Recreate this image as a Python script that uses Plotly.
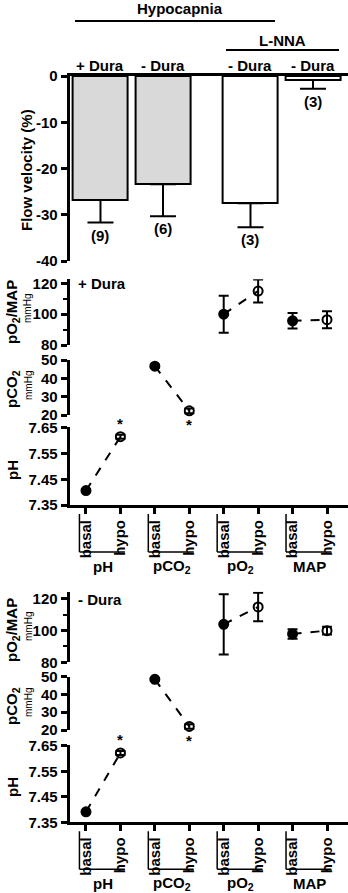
import plotly.graph_objects as go

# ---------------- data ----------------
bar_groups = ["+ Dura", "- Dura", "- Dura", "- Dura"]
flow_mean = [-26.8, -23.4, -27.5, -0.86]
flow_sem = [4.9, 6.9, 5.2, 1.9]
flow_n = ["(9)", "(6)", "(3)", "(3)"]
flow_ticks = [0, -10, -20, -30, -40]

params = ["pH", "pCO<sub>2</sub>", "pO<sub>2</sub>", "MAP"]
conditions = ["basal", "hypo"]

# + Dura block (basal, hypo)
plus_pH = [7.406, 7.616]
plus_pH_err = [0.005, 0.008]
plus_pCO2 = [46.6, 22.3]
plus_pCO2_err = [0.8, 1.3]
plus_pO2 = [100.0, 115.0]
plus_pO2_err = [12.0, 7.5]
plus_MAP = [95.7, 96.4]
plus_MAP_err = [5.0, 5.5]

# - Dura block (basal, hypo)
minus_pH = [7.391, 7.622]
minus_pH_err = [0.005, 0.008]
minus_pCO2 = [48.5, 22.0]
minus_pCO2_err = [0.8, 1.3]
minus_pO2 = [104.0, 115.0]
minus_pO2_err = [19.0, 9.0]
minus_MAP = [97.9, 100.0]
minus_MAP_err = [3.0, 2.4]

# ---------------- layout helpers ----------------
W, H = 348, 893
FONT = "Liberation Sans, Arial, sans-serif"
def px(p):
    return p / W
def py(p):
    return 1 - p / H

XDOM = [px(69.6), 1.0]
bar_pos = [0, 1, 2.4, 3.4]
bar_fill = ["#d9d9d9", "#d9d9d9", "white", "white"]

fig = go.Figure()


def note(**kw):
    kw.setdefault("showarrow", False)
    kw.setdefault("xanchor", "center")
    kw.setdefault("yanchor", "middle")
    fig.add_annotation(**kw)


# ---------------- bar chart ----------------
fig.add_trace(go.Bar(
    x=bar_pos, y=flow_mean, width=0.88,
    marker=dict(color=bar_fill, line=dict(color="black", width=2)),
    error_y=dict(type="data", symmetric=False, array=[0] * 4, arrayminus=flow_sem,
                 color="black", thickness=2, width=13),
    xaxis="x", yaxis="y", showlegend=False))

hdr_font = dict(family=FONT, size=15, color="black", weight="bold")

for xp, m, s, n in zip(bar_pos, flow_mean, flow_sem, flow_n):
    note(x=xp, y=m - s, xref="x", yref="y", text=n, yanchor="top", yshift=-2,
         font=hdr_font)

tickfont = dict(family=FONT, size=15, color="black", weight="bold")

axis_common = dict(showline=True, linecolor="black", linewidth=3, ticks="outside",
                   ticklen=6, tickwidth=3, tickcolor="black", showgrid=False,
                   zeroline=False, tickfont=tickfont, automargin=False)

fig.update_layout(
    xaxis=dict(domain=XDOM, range=[-0.494, 3.96], side="top", showline=True,
               linecolor="black", linewidth=3, showticklabels=False, ticks="",
               showgrid=False, zeroline=False, anchor="y", automargin=False),
    yaxis=dict(domain=[py(261), py(76)], range=[-40, 0], tickvals=flow_ticks,
               ticktext=[str(t) for t in flow_ticks], anchor="x", **axis_common),
)

# header texts
for xp, lab in zip(bar_pos, bar_groups):
    note(x=xp, y=py(65), xref="x", yref="paper", text=lab, font=hdr_font)
note(x=px(180), y=py(9), xref="paper", yref="paper", text="Hypocapnia", font=hdr_font)
note(x=px(282), y=py(41), xref="paper", yref="paper", text="L-NNA", font=hdr_font)
fig.add_shape(type="line", xref="paper", yref="paper", x0=px(75), x1=px(275),
              y0=py(21), y1=py(21), line=dict(color="black", width=2))
fig.add_shape(type="line", xref="paper", yref="paper", x0=px(226), x1=px(339),
              y0=py(50), y1=py(50), line=dict(color="black", width=2))
note(x=px(26), y=py(170), xref="paper", yref="paper", text="Flow velocity (%)",
     textangle=-90, font=hdr_font)

# ---------------- parameter blocks ----------------
XR = [-0.476, 7.61]
cat_ticktext = conditions * 4


def add_block(ax0, pix, data, label):
    a1, a2, a3 = ax0, ax0 + 1, ax0 + 2
    (pH, pHe, pC, pCe, pO, pOe, mp, mpe) = data
    series = [(0, pH, pHe, a3), (2, pC, pCe, a2), (4, pO, pOe, a1), (6, mp, mpe, a1)]
    for x0, vals, errs, a in series:
        fig.add_trace(go.Scatter(
            x=[x0, x0 + 1], y=vals, mode="lines+markers",
            line=dict(color="black", width=2, dash="dash"),
            marker=dict(symbol=["circle", "circle-open"], size=9, color="black",
                        line=dict(color="black", width=2)),
            error_y=dict(type="data", array=errs, color="black", thickness=2, width=5),
            xaxis=f"x{a}", yaxis=f"y{a}", showlegend=False, cliponaxis=False))

    hid = dict(domain=XDOM, range=XR, visible=False, automargin=False)
    fig.layout[f"xaxis{a1}"] = dict(anchor=f"y{a1}", **hid)
    fig.layout[f"xaxis{a2}"] = dict(anchor=f"y{a2}", **hid)
    fig.layout[f"xaxis{a3}"] = dict(domain=XDOM, range=XR, anchor=f"y{a3}",
                                    tickvals=list(range(8)), ticktext=cat_ticktext,
                                    tickangle=-90, **axis_common)
    fig.layout[f"yaxis{a1}"] = dict(domain=[py(pix["o80"]), py(pix["otop"])],
                                    range=[80, pix["orange"]], tick0=80, dtick=20,
                                    anchor=f"x{a1}",
                                    minor=dict(dtick=10, ticklen=4, tickwidth=2,
                                               ticks="outside", tickcolor="black"),
                                    **axis_common)
    fig.layout[f"yaxis{a2}"] = dict(domain=[py(pix["c20"]), py(pix["c50"])],
                                    range=[20, 50], dtick=10, anchor=f"x{a2}",
                                    **axis_common)
    fig.layout[f"yaxis{a3}"] = dict(domain=[py(pix["h735"]), py(pix["htop"])],
                                    range=[7.35, pix["hrange"]],
                                    tickvals=[7.35, 7.45, 7.55, 7.65],
                                    ticktext=["7.35", "7.45", "7.55", "7.65"],
                                    anchor=f"x{a3}", **axis_common)

    note(x=1, y=pH[1], xref=f"x{a3}", yref=f"y{a3}", text="*", yshift=13,
         font=hdr_font)
    note(x=3, y=pC[1], xref=f"x{a2}", yref=f"y{a2}", text="*", yshift=-14,
         font=hdr_font)

    note(x=px(76), y=py(pix["lab"]), xref="paper", yref="paper", text=label,
         xanchor="left", font=hdr_font)

    small = dict(family=FONT, size=10, color="black")
    for text, yc, unit in [("pO<sub>2</sub>/MAP", pix["t1"], True),
                           ("pCO<sub>2</sub>", pix["t2"], True),
                           ("pH", pix["t3"], False)]:
        note(x=px(12), y=py(yc), xref="paper", yref="paper", text=text,
             textangle=-90, font=hdr_font)
        if unit:
            note(x=px(28), y=py(yc - 3), xref="paper", yref="paper",
                 text="mmHg", textangle=-90, font=small)

    axis_y = pix["h735"]
    for g, name in enumerate(params):
        x0 = 2 * g - 0.19
        x1 = 2 * g + 1.13
        fig.add_shape(type="line", xref=f"x{a3}", yref="paper", x0=x0, x1=x0,
                      y0=py(axis_y + 9), y1=py(axis_y + 47),
                      line=dict(color="black", width=1.5))
        fig.add_shape(type="line", xref=f"x{a3}", yref="paper", x0=x0, x1=x1,
                      y0=py(axis_y + 47), y1=py(axis_y + 47),
                      line=dict(color="black", width=1.5))
        note(x=2 * g + 0.5, y=py(axis_y + 61), xref=f"x{a3}", yref="paper",
             text=name, font=hdr_font)


add_block(2, dict(o80=345, otop=279.3, orange=122.6, c20=415, c50=360,
                  h735=505, htop=426.7, hrange=7.655, lab=283,
                  t1=312, t2=389, t3=470),
          (plus_pH, plus_pH_err, plus_pCO2, plus_pCO2_err,
           plus_pO2, plus_pO2_err, plus_MAP, plus_MAP_err), "+ Dura")

add_block(5, dict(o80=662.3, otop=591.7, orange=124.6, c20=730, c50=676.7,
                  h735=822.3, htop=744.5, hrange=7.655, lab=599,
                  t1=630, t2=706, t3=787),
          (minus_pH, minus_pH_err, minus_pCO2, minus_pCO2_err,
           minus_pO2, minus_pO2_err, minus_MAP, minus_MAP_err), "- Dura")

fig.update_layout(width=W, height=H, margin=dict(l=0, r=0, t=0, b=0),
                  paper_bgcolor="white", plot_bgcolor="white",
                  font=dict(family=FONT, color="black"), bargap=0)

fig.write_html("out.html", config={"displayModeBar": False},
               post_script="document.body.style.margin='0';"
                           "document.body.style.overflow='hidden';")
